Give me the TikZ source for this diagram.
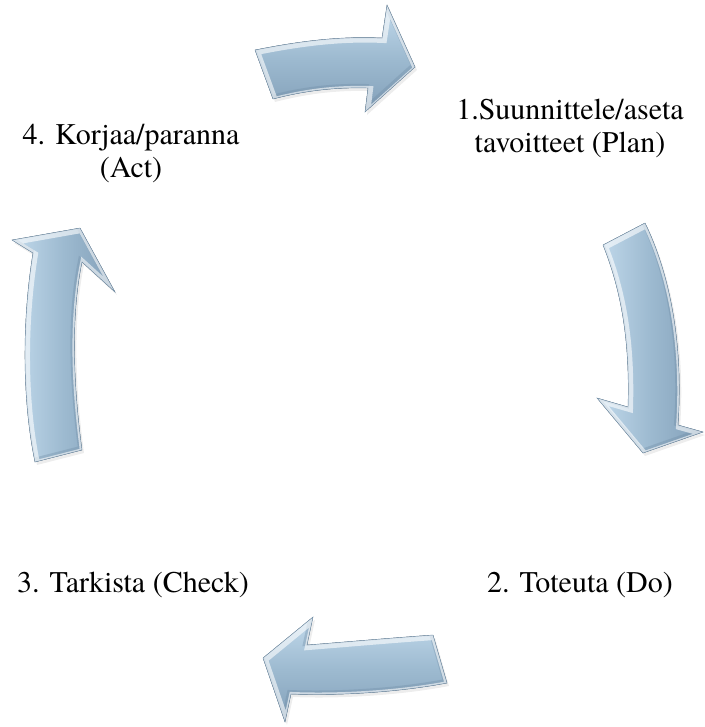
\documentclass[tikz,border=0pt]{standalone}
\usepackage{fontspec}
\IfFontExistsTF{TeX Gyre Termes}
  {\setmainfont{TeX Gyre Termes}}
  {\setmainfont{Liberation Serif}}
\definecolor{armtop}{HTML}{C2DAEC}
\definecolor{armmid}{HTML}{9DBAD0}
\definecolor{armbot}{HTML}{829FB8}
\definecolor{armedge}{HTML}{6F8CA5}
\tikzset{
  bodyh/.style={top color=armtop, bottom color=armbot, middle color=armmid},
  bodyv/.style={left color=armtop, right color=armbot, middle color=armmid},
  bevellight/.style={draw=white, line width=7pt, opacity=0.6, line join=miter,
    xshift=1.5pt, yshift=-1.5pt},
  beveldark/.style={draw=armedge, line width=5pt, opacity=0.35, line join=miter,
    xshift=-1.5pt, yshift=1.5pt},
  rim/.style={draw=armedge, line width=0.4pt, line join=miter},
  steptext/.style={font=\fontsize{30}{33}\selectfont, align=center, inner sep=0pt}
}
% filled block arrow with a soft shadow and a two-tone inner bevel
\newcommand\cyclearrow[2]{%
  \fill[black, opacity=0.07, xshift=2pt, yshift=-3pt] #2;
  \fill[#1] #2;
  \begin{scope}
    \clip #2;
    \draw[beveldark] #2;
    \draw[bevellight] #2;
  \end{scope}
  \draw[rim] #2;
}
\begin{document}
\begin{tikzpicture}[x=1pt,y=-1pt]
\useasboundingbox[fill=white] (0,0) rectangle (704,727);

% stage labels
\node[steptext] (plan)  at (570,128) {1.Suunnittele/aseta\\tavoitteet (Plan)};
\node[steptext] (act)   at (131,154) {4. Korjaa/paranna\\(Act)};
\node[steptext] (check) at (133,585) {3. Tarkista (Check)};
\node[steptext] (do)    at (580,585) {2. Toteuta (Do)};

% Act -> Plan (top, pointing right)
\cyclearrow{bodyh}{(255,50) .. controls (300,41) and (340,36) .. (382,38)
  -- (387,5) -- (415,67) -- (365,112) -- (368,88)
  .. controls (330,87) and (300,92) .. (273,99) -- cycle}

% Plan -> Do (right, pointing down)
\cyclearrow{bodyv}{(603,245) -- (645,223)
  .. controls (668,270) and (684,340) .. (678,425)
  -- (703,432) -- (643,453) -- (597,398) -- (628,407)
  .. controls (630,340) and (621,290) .. (603,245) -- cycle}

% Do -> Check (bottom, pointing left)
\cyclearrow{bodyh}{(447,683) -- (433,635)
  .. controls (390,638) and (345,642) .. (307,645)
  -- (313,617) -- (263,658) -- (285,722) -- (291,694)
  .. controls (340,696) and (400,692) .. (447,683) -- cycle}

% Check -> Act (left, pointing up)
\cyclearrow{bodyv}{(35,462) -- (82,450)
  .. controls (74,390) and (70,320) .. (82,262)
  -- (115,292) -- (80,228) -- (12,240) -- (33,253)
  .. controls (22,320) and (22,400) .. (35,462) -- cycle}
\end{tikzpicture}
\end{document}
